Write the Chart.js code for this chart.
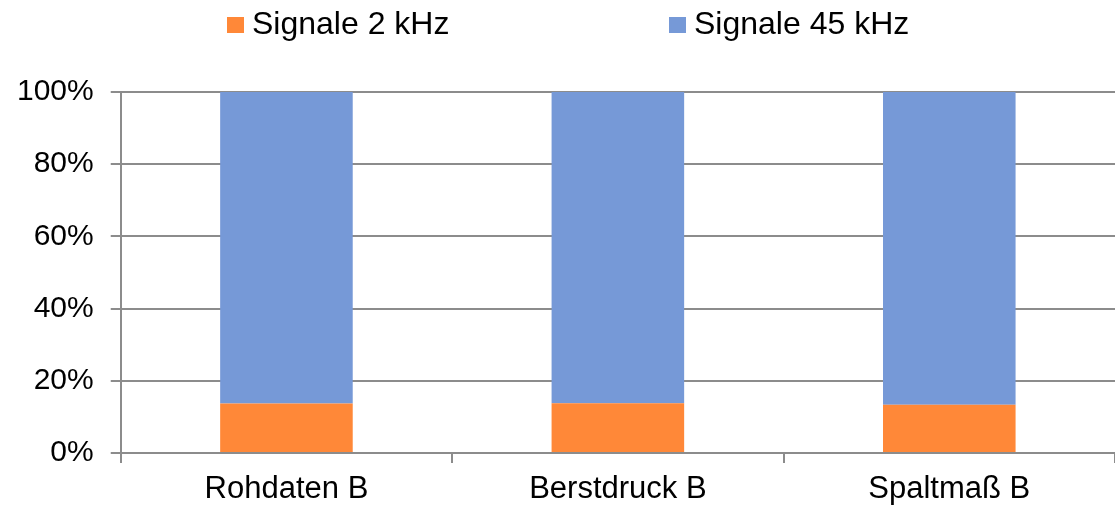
<!DOCTYPE html>
<html>
<head>
<meta charset="utf-8">
<script src="https://cdn.jsdelivr.net/npm/chart.js@4"></script>
<style>
  html, body { margin: 0; padding: 0; background: #fff; }
  #wrap { width: 1115px; height: 509px; }
</style>
</head>
<body>
<div id="wrap"><canvas id="chart1"></canvas></div>
<script>
const categories = ['Rohdaten B', 'Berstdruck B', 'Spaltmaß B'];
const signal2k = [13.7, 13.8, 13.4];
const signal45k = [86.3, 86.2, 86.6];
const yTicks = [0, 20, 40, 60, 80, 100];

const gridColor = '#8c8c8c';
const fontFamily = '"Liberation Sans", Arial, sans-serif';

// legend drawn by hand, the built-in one spaces items too tight
const legendPlugin = {
    id: 'topLegend',
    afterDraw(chart) {
        const ctx = chart.ctx;
        const starts = [227, 669];
        ctx.save();
        ctx.font = '32px ' + fontFamily;
        ctx.textBaseline = 'middle';
        chart.data.datasets.forEach((ds, i) => {
            const x = starts[i];
            ctx.fillStyle = ds.backgroundColor;
            ctx.fillRect(x, 17, 17, 16);
            ctx.fillStyle = '#000';
            ctx.fillText(ds.label, x + 25, 25);
        });
        ctx.restore();
    }
};

const ctx1 = document.getElementById('chart1').getContext('2d');
let chart1 = new Chart(ctx1, {
    type: 'bar',
    data: {
        labels: categories,
        datasets: [{
            label: 'Signale 2 kHz',
            backgroundColor: '#FF8838',
            data: signal2k,
            barPercentage: 0.4,
            categoryPercentage: 1.0
        }, {
            label: 'Signale 45 kHz',
            backgroundColor: '#7699D7',
            data: signal45k,
            barPercentage: 0.4,
            categoryPercentage: 1.0
        }]
    },
    options: {
        responsive: true,
        maintainAspectRatio: false,
        animation: false,
        layout: {
            padding: { top: 92, right: 0, left: 0, bottom: 0 }
        },
        plugins: {
            legend: { display: false },
            tooltip: { enabled: false }
        },
        scales: {
            x: {
                stacked: true,
                afterFit: (scale) => { scale.height = 56; },
                grid: {
                    offset: true,
                    drawOnChartArea: false,
                    color: gridColor,
                    lineWidth: 2,
                    tickLength: 10
                },
                border: { color: gridColor, width: 2 },
                ticks: {
                    color: '#000',
                    padding: 8,
                    font: { family: fontFamily, size: 31 }
                }
            },
            y: {
                stacked: true,
                min: 0,
                max: 100,
                afterBuildTicks: (axis) => {
                    axis.ticks = yTicks.map(v => ({ value: v }));
                },
                grid: {
                    color: gridColor,
                    lineWidth: 2,
                    tickLength: 10
                },
                border: { color: gridColor, width: 2 },
                ticks: {
                    color: '#000',
                    padding: 17,
                    font: { family: fontFamily, size: 30 },
                    callback: (v) => v + '%'
                }
            }
        }
    },
    plugins: [legendPlugin]
});
</script>
</body>
</html>
